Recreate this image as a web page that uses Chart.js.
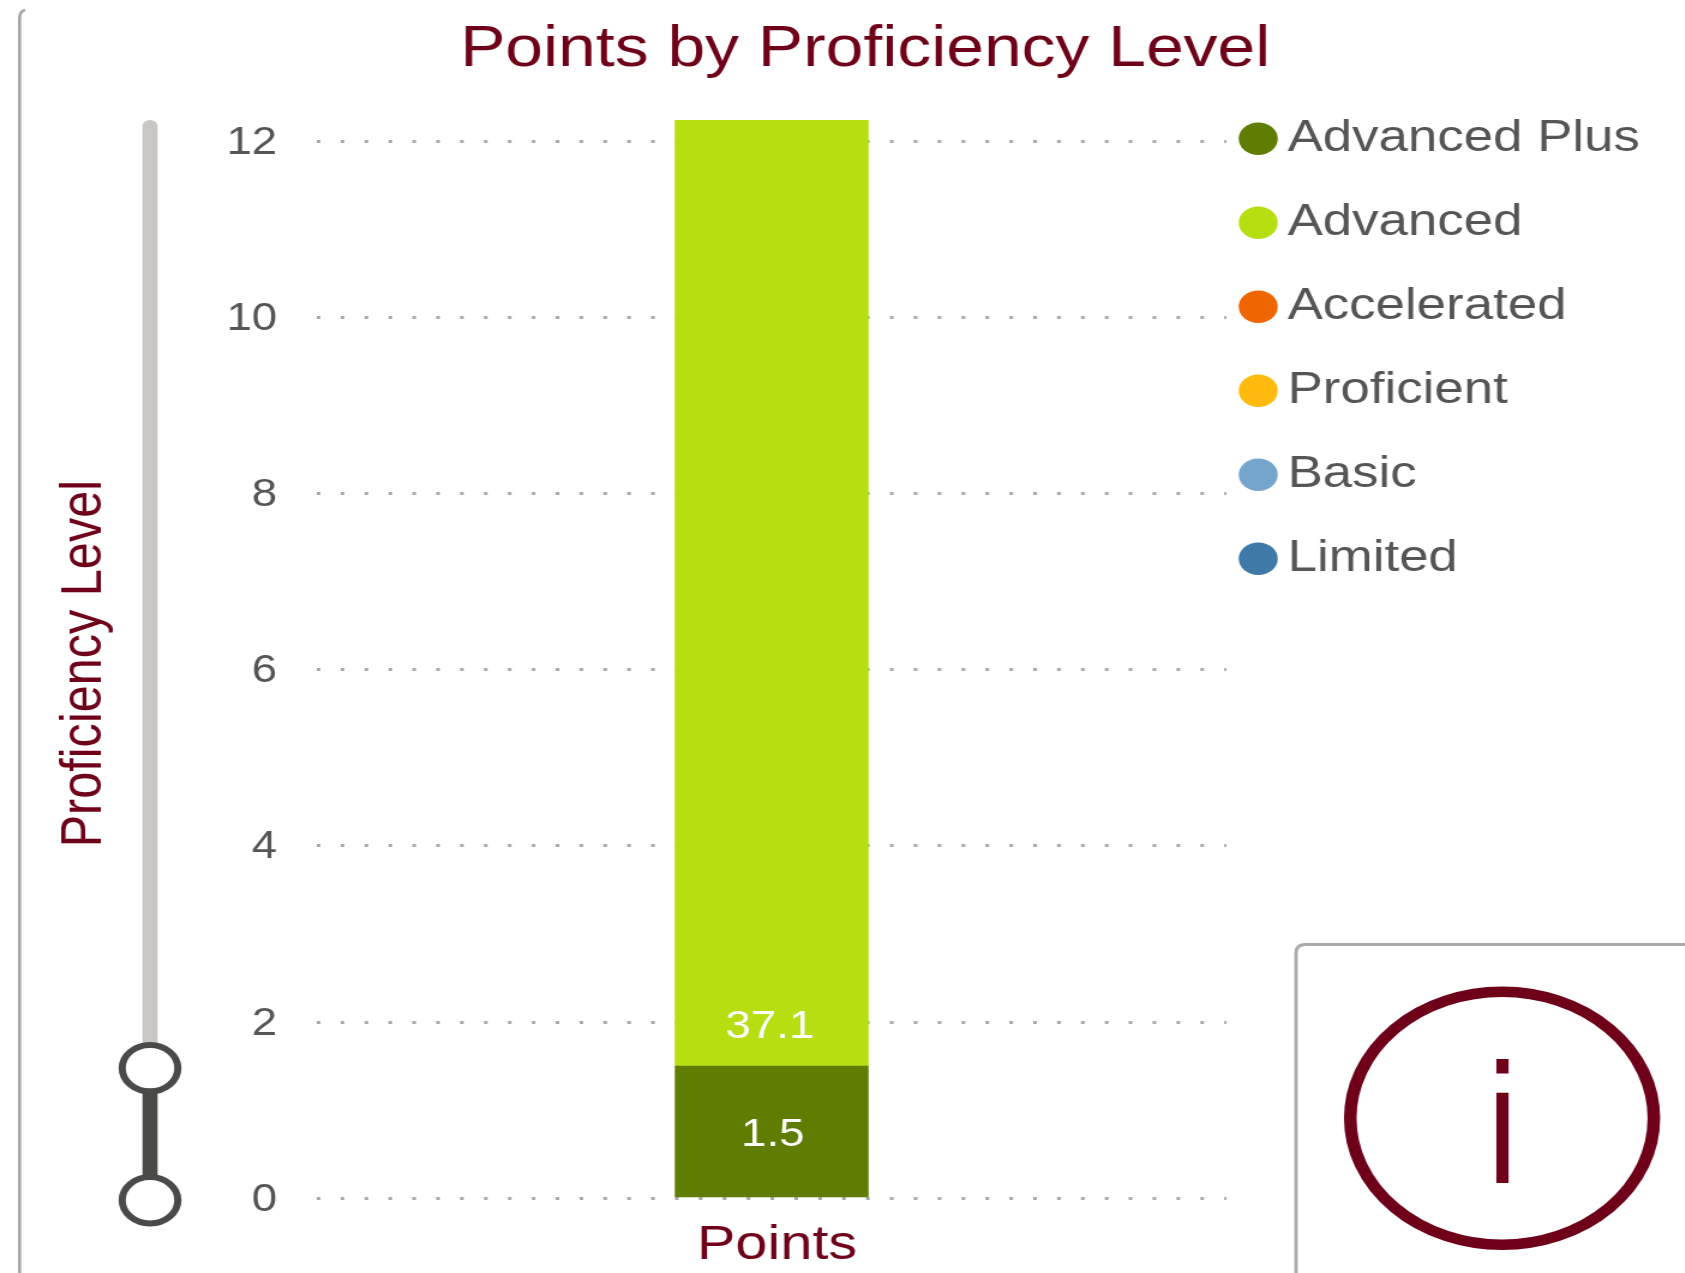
<!DOCTYPE html>
<html>
<head>
<meta charset="utf-8">
<style>
html,body{margin:0;padding:0;background:#fff;overflow:hidden;width:1685px;height:1273px}
#wrap{position:absolute;left:0;top:0;width:1404px;height:1273px;transform:scaleX(1.2);transform-origin:0 0;filter:blur(0.45px)}
canvas{display:block}
</style>
<script src="https://cdn.jsdelivr.net/npm/chart.js@4"></script>
</head>
<body>
<div id="wrap"><canvas id="c" width="1404" height="1273"></canvas></div>
<script>
const categories = ["Points"];
const seriesNames = ["Advanced Plus","Advanced","Accelerated","Proficient","Basic","Limited"];
const advancedPlus = [1.5];
const advanced = [37.1];
const accelerated = [null];
const proficient = [null];
const basic = [null];
const limited = [null];
const seriesColors = ["#5f7d00","#b6de10","#ef6500","#ffba0d","#76a5cc","#3f79a8"];
const chartTitle = "Points by Proficiency Level";
const yTitle = "Proficiency Level";
const sliderRange = [0, 1.5];
const yMax = 12.24, yStep = 2;

const MAROON = "#6e0019", GREY_TEXT = "#555555", FONT = "'Liberation Sans', Arial, sans-serif";

const pageFurniture = {
  id: "pageFurniture",
  afterLayout(chart){
    chart.legend.left = 1006;
    chart.legend.right = 1404;
    chart.legend.top = 76.75;
    chart.titleBlock.left = 38;
    chart.titleBlock.right = 1404;
    const s = chart.scales.y;
    if (!s._titleShifted){
      const drawTitle = s.drawTitle;
      s.drawTitle = function(){
        this.ctx.save();
        this.ctx.translate(0,4.5);
        drawTitle.call(this);
        this.ctx.restore();
      };
      s._titleShifted = true;
    }
  },
  beforeDraw(chart){
    const ctx = chart.ctx, a = chart.chartArea, y = chart.scales.y;
    ctx.save();
    // outer frame
    ctx.strokeStyle = "#a6a6a6"; ctx.lineWidth = 2.6;
    ctx.beginPath(); ctx.moveTo(16.3,1273); ctx.lineTo(16.3,18); ctx.quadraticCurveTo(16.3,11,21,10); ctx.stroke();
    // info box
    ctx.lineWidth = 2.8; ctx.strokeStyle = "#aaaaaa";
    ctx.beginPath(); ctx.moveTo(1080,1273); ctx.lineTo(1080,953); ctx.quadraticCurveTo(1080,944.5,1088,944.5); ctx.lineTo(1404,944.5); ctx.stroke();
    // info icon
    ctx.strokeStyle = MAROON; ctx.lineWidth = 10.5;
    ctx.beginPath(); ctx.arc(1251.7,1118.3,126.5,0,Math.PI*2); ctx.stroke();
    ctx.save();
    ctx.translate(1252,1183); ctx.scale(0.68,1);
    ctx.fillStyle = MAROON; ctx.font = "170px "+FONT; ctx.textAlign = "center"; ctx.textBaseline = "alphabetic";
    ctx.fillText("i",0,0);
    ctx.restore();
    // range slider
    const sx = 125, off = 2;
    const yLo = y.getPixelForValue(sliderRange[0])+off, yHi = y.getPixelForValue(sliderRange[1])+off;
    ctx.fillStyle = "#c8c7c5";
    ctx.beginPath(); ctx.roundRect(sx-6.3,a.top,12.6,yHi-a.top,6); ctx.fill();
    ctx.fillStyle = "#4a4a48";
    ctx.fillRect(sx-6.3,yHi,12.6,yLo-yHi);
    [yHi,yLo].forEach(v=>{
      ctx.beginPath(); ctx.arc(sx,v,23.2,0,Math.PI*2);
      ctx.fillStyle="#fff"; ctx.fill();
      ctx.strokeStyle="#4a4a48"; ctx.lineWidth=6; ctx.stroke();
    });
    ctx.restore();
  },
  afterDatasetsDraw(chart){
    const ctx = chart.ctx;
    ctx.save();
    ctx.fillStyle = "#ffffff"; ctx.font = "38px "+FONT; ctx.textAlign="center"; ctx.textBaseline="middle";
    const m0 = chart.getDatasetMeta(0).data[0], m1 = chart.getDatasetMeta(1).data[0];
    ctx.fillText(String(advancedPlus[0]), m0.x+1, (m0.y+m0.base)/2+4);
    ctx.fillText(String(advanced[0]), m1.x-1.5, m1.base-39);
    ctx.restore();
  }
};

const series = [advancedPlus,advanced,accelerated,proficient,basic,limited];
new Chart(document.getElementById("c"),{
  type:"bar",
  data:{
    labels:categories,
    datasets:seriesNames.map((n,i)=>({label:n,data:series[i],backgroundColor:seriesColors[i],borderWidth:0,barThickness:160.8}))
  },
  plugins:[pageFurniture],
  options:{
    responsive:false,
    animation:false,
    devicePixelRatio:1,
    layout:{padding:{left:38,right:53.9,top:0,bottom:0}},
    plugins:{
      tooltip:{enabled:false},
      title:{display:true,text:chartTitle,color:MAROON,font:{family:FONT,size:56.5,weight:"normal"},padding:{top:16.4,bottom:35.8}},
      legend:{
        position:"right",align:"start",
        labels:{
          usePointStyle:true,pointStyle:"circle",boxWidth:5,boxHeight:23,padding:40,color:GREY_TEXT,
          font:{family:FONT,size:44}
        }
      }
    },
    scales:{
      x:{
        stacked:true,
        grid:{display:false},
        border:{display:false},
        ticks:{color:MAROON,font:{family:FONT,size:48},padding:10.5,labelOffset:4.5,maxRotation:0},
        afterFit(s){s.height=74.7;}
      },
      y:{
        stacked:true,min:0,max:yMax,
        afterFit(s){s.width=226;},
        grid:{color:"#a8a8a8",lineWidth:3,drawTicks:false},
        border:{display:false,dash:[3,16.9]},
        ticks:{stepSize:yStep,includeBounds:false,color:GREY_TEXT,font:{family:FONT,size:38},padding:33,labelOffset:2},
        title:{display:true,text:yTitle,color:MAROON,font:{family:FONT,size:48.6},padding:{top:3,bottom:0}}
      }
    }
  }
});
</script>
</body>
</html>
